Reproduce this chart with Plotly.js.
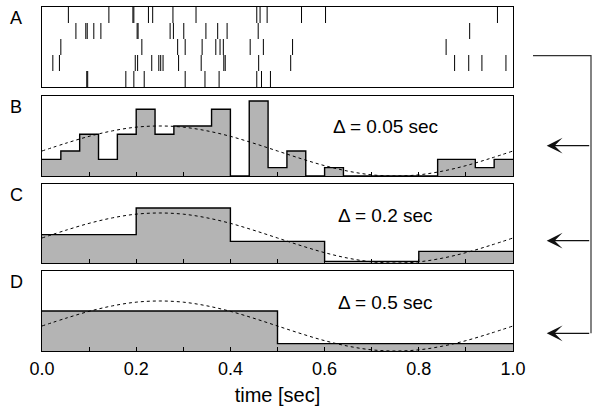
<!DOCTYPE html>
<html><head><meta charset="utf-8">
<script src="https://cdn.plot.ly/plotly-3.0.1.min.js"></script>
<style>html,body{margin:0;padding:0;background:#fff;}#chart{width:592px;height:411px;}</style>
</head><body><div id="chart"></div>
<script>
// Panel A: spike times (sec), one array per trial, top row first
const trial1 = [0.056,0.142,0.193,0.195,0.226,0.235,0.278,0.327,0.456,0.463,0.478,0.551,0.602,0.967];
const trial2 = [0.072,0.093,0.096,0.110,0.125,0.202,0.204,0.272,0.279,0.301,0.348,0.373,0.393,0.459,0.908];
const trial3 = [0.040,0.212,0.288,0.304,0.340,0.369,0.378,0.385,0.442,0.470,0.532,0.858];
const trial4 = [0.023,0.037,0.198,0.203,0.233,0.248,0.252,0.257,0.290,0.338,0.386,0.389,0.460,0.528,0.876,0.906,0.934,0.985];
const trial5 = [0.095,0.097,0.178,0.195,0.217,0.304,0.346,0.376,0.456,0.466,0.485];

// Panel B: rate per 0.04 s bin (spikes/s)
const binB = 0.04;
const rateB = [10,15,25,10,25,40,25,30,30,40,0,45,5,15,0,5,0,0,0,0,0,10,10,5,10];
// Panel C: rate per 0.2 s bin
const binC = 0.2;
const rateC = [17,33,13,1,7];
// Panel D: rate per 0.5 s bin
const binD = 0.5;
const rateD = [24,4.4];

// Underlying rate (dashed curve), read at 0.05 s steps
const curveT = [0,0.05,0.1,0.15,0.2,0.25,0.3,0.35,0.4,0.45,0.5,0.55,0.6,0.65,0.7,0.75,0.8,0.85,0.9,0.95,1.0];
const curveV = [15,19.6,23.8,27.1,29.3,30,29.3,27.1,23.8,19.6,15,10.4,6.2,2.9,0.7,0,0.7,2.9,6.2,10.4,15];

const panelLabels = ['A','B','C','D'];
const deltaLabels = ['\u0394 = 0.05 sec','\u0394 = 0.2 sec','\u0394 = 0.5 sec'];
const xTitle = 'time [sec]';

// ---- layout geometry (pixels) ----
const T = 7, Bt = 351;
const panelsPx = [[7,87],[96,176],[184,263],[271,351]]; // A,B,C,D
const pxPerHz = 1.667;
function dom(p){ return [(Bt-p[1])/(Bt-T), (Bt-p[0])/(Bt-T)]; }
function px2py(y){ return (Bt-y)/(Bt-T); }
function px2px(x){ return (x-42)/471; }
const FONT = 'Liberation Sans, Arial, Helvetica, sans-serif';

const trials = [trial1,trial2,trial3,trial4,trial5];
const traces = [];
// raster
const rowH = (panelsPx[0][1]-panelsPx[0][0])/trials.length;
trials.forEach((tr,i)=>{
  traces.push({type:'scatter',mode:'markers',x:tr,y:tr.map(()=>trials.length-0.5-i),
    xaxis:'x4',yaxis:'y4',hoverinfo:'skip',
    marker:{symbol:'line-ns-open',size:rowH/1.4,color:'#000',line:{color:'#000',width:1}}});
});

function stepTrace(rates,bw,xa,ya){
  const xs=[],ys=[];
  rates.forEach((r,i)=>{xs.push(i*bw);ys.push(r);});
  xs.push(rates.length*bw); ys.push(rates[rates.length-1]);
  return {type:'scatter',mode:'lines',x:xs,y:ys,xaxis:xa,yaxis:ya,line:{shape:'hv',color:'#000',width:1.4},
    fill:'tozeroy',fillcolor:'#b4b4b4',hoverinfo:'skip'};
}
function curveTrace(xa,ya){
  return {type:'scatter',mode:'lines',x:curveT,y:curveV,xaxis:xa,yaxis:ya,
    line:{shape:'spline',color:'#000',width:1,dash:'3px,3px'},hoverinfo:'skip'};
}
traces.push(stepTrace(rateB,binB,'x3','y3'), curveTrace('x3','y3'));
traces.push(stepTrace(rateC,binC,'x2','y2'), curveTrace('x2','y2'));
traces.push(stepTrace(rateD,binD,'x','y'), curveTrace('x','y'));

const baseX = {range:[0,1],domain:[0,1],showline:true,mirror:true,linecolor:'#000',linewidth:1,
  showgrid:false,zeroline:false,ticks:'inside',ticklen:4,tickcolor:'#000',dtick:0.2,tick0:0,
  minor:{dtick:0.1,ticks:'inside',ticklen:4,tickcolor:'#000',showgrid:false},
  tickfont:{family:FONT,size:18,color:'#000'},tickformat:'.1f',ticklabelstandoff:1};
function yAx(p,range){ return {domain:dom(p),range:range,showline:true,mirror:true,linecolor:'#000',linewidth:1,
  showgrid:false,zeroline:false,ticks:'',showticklabels:false,fixedrange:true}; }
function hist_range(p){ return [0,(p[1]-p[0])/pxPerHz]; }

const layout = {
  width:592,height:411,margin:{l:42,r:79,t:7,b:60},paper_bgcolor:'#fff',plot_bgcolor:'#fff',showlegend:false,
  font:{family:FONT,color:'#000'},
  xaxis: Object.assign({},baseX,{anchor:'y',title:{text:xTitle,font:{family:FONT,size:20,color:'#000'},standoff:10}}),
  yaxis: yAx(panelsPx[3],hist_range(panelsPx[3])),
  xaxis2: Object.assign({},baseX,{anchor:'y2',showticklabels:false}),
  yaxis2: yAx(panelsPx[2],hist_range(panelsPx[2])),
  xaxis3: Object.assign({},baseX,{anchor:'y3',showticklabels:false}),
  yaxis3: yAx(panelsPx[1],hist_range(panelsPx[1])),
  xaxis4: Object.assign({},baseX,{anchor:'y4',showticklabels:false,ticks:'',minor:{ticks:''}}),
  yaxis4: yAx(panelsPx[0],[0,trials.length]),
  annotations:[], shapes:[]
};
// panel letters
panelLabels.forEach((l,i)=>{
  layout.annotations.push({xref:'paper',yref:'paper',x:px2px(16),y:px2py(panelsPx[i][0]+11),text:l,showarrow:false,
    xanchor:'center',yanchor:'middle',font:{family:FONT,size:18,color:'#000'}});
});
// delta labels
deltaLabels.forEach((l,i)=>{
  layout.annotations.push({xref:'paper',yref:'paper',x:px2px(385),y:px2py(panelsPx[i+1][0]+31),text:l,showarrow:false,
    xanchor:'center',yanchor:'middle',font:{family:FONT,size:19,color:'#000'}});
});
// bracket + arrows
layout.shapes.push({type:'path',xref:'paper',yref:'paper',
  path:`M${px2px(533)},${px2py(55.7)} L${px2px(591)},${px2py(55.7)} L${px2px(591)},${px2py(333.3)}`,
  line:{color:'#333',width:1.2}});
[145.7,240.7,333.3].forEach(y=>{
  layout.annotations.push({xref:'paper',yref:'paper',x:px2px(546.7),y:px2py(y),ax:44,ay:0,text:'',showarrow:true,
    arrowhead:3,arrowsize:2.2,arrowwidth:1.2,arrowcolor:'#111'});
});

Plotly.newPlot('chart',traces,layout,{staticPlot:true,displayModeBar:false});
</script></body></html>
